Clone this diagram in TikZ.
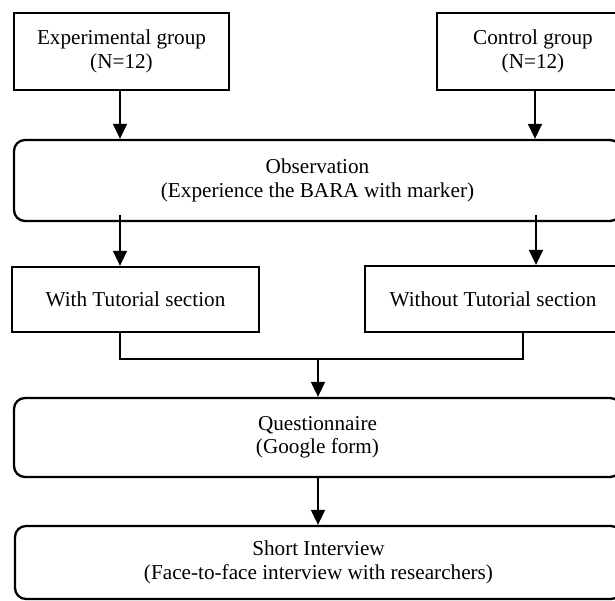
\documentclass[tikz,border=0pt]{standalone}
\usepackage{fontspec}
\setmainfont{Liberation Serif}
\usetikzlibrary{arrows.meta,calc}
\begin{document}
\begin{tikzpicture}[x=1pt,y=-1pt,
  sqbox/.style={draw=black, line width=2.3pt, inner sep=0pt, align=center,
    font=\fontsize{21.2}{23.5}\selectfont},
  rbox/.style={sqbox, rounded corners=11pt},
  conn/.style={line width=1.6pt, -{Triangle[width=14pt,length=15pt]}},
  plainline/.style={line width=1.6pt}]
\useasboundingbox (0,0) rectangle (615,601);
\clip (0,0) rectangle (615,601);

\node[sqbox, minimum width=215pt, minimum height=77pt] (exp) at (121.5,51.5) {Experimental group\\(N=12)};
\node[sqbox, minimum width=192pt, minimum height=77pt] (ctl) at (533,51.5) {Control group\\(N=12)};
\node[rbox, minimum width=607pt, minimum height=81pt] (obs) at (317.5,180.5) {Observation\\(Experience the BARA with marker)};
\node[sqbox, minimum width=247pt, minimum height=65pt] (with) at (135.5,299.5) {With Tutorial section};
\node[sqbox, minimum width=256pt, minimum height=66pt] (without) at (493,299) {Without Tutorial section};
\node[rbox, minimum width=607pt, minimum height=79pt] (quest) at (317.5,437.5) {Questionnaire\\(Google form)};
\node[rbox, minimum width=607pt, minimum height=73pt] (intv) at (318.5,562.5) {Short Interview\\(Face-to-face interview with researchers)};

\coordinate (eA) at (120,90);
\coordinate (cA) at (535,90);
\coordinate (oL) at (120,215);
\coordinate (oR) at (536,215);
\coordinate (mL) at (120,359);
\coordinate (mR) at (523,359);
\coordinate (mM) at (318,359);

\draw[conn] (eA) -- (eA |- obs.north);
\draw[conn] (cA) -- (cA |- obs.north);
\draw[conn] (oL) -- (oL |- with.north);
\draw[conn] (oR) -- (oR |- without.north);
\draw[plainline] (with.south -| mL) -- (mL) -- (mR) -- (without.south -| mR);
\draw[conn] (mM) -- (mM |- quest.north);
\draw[conn] (quest.south -| mM) -- (mM |- intv.north);
\end{tikzpicture}
\end{document}
